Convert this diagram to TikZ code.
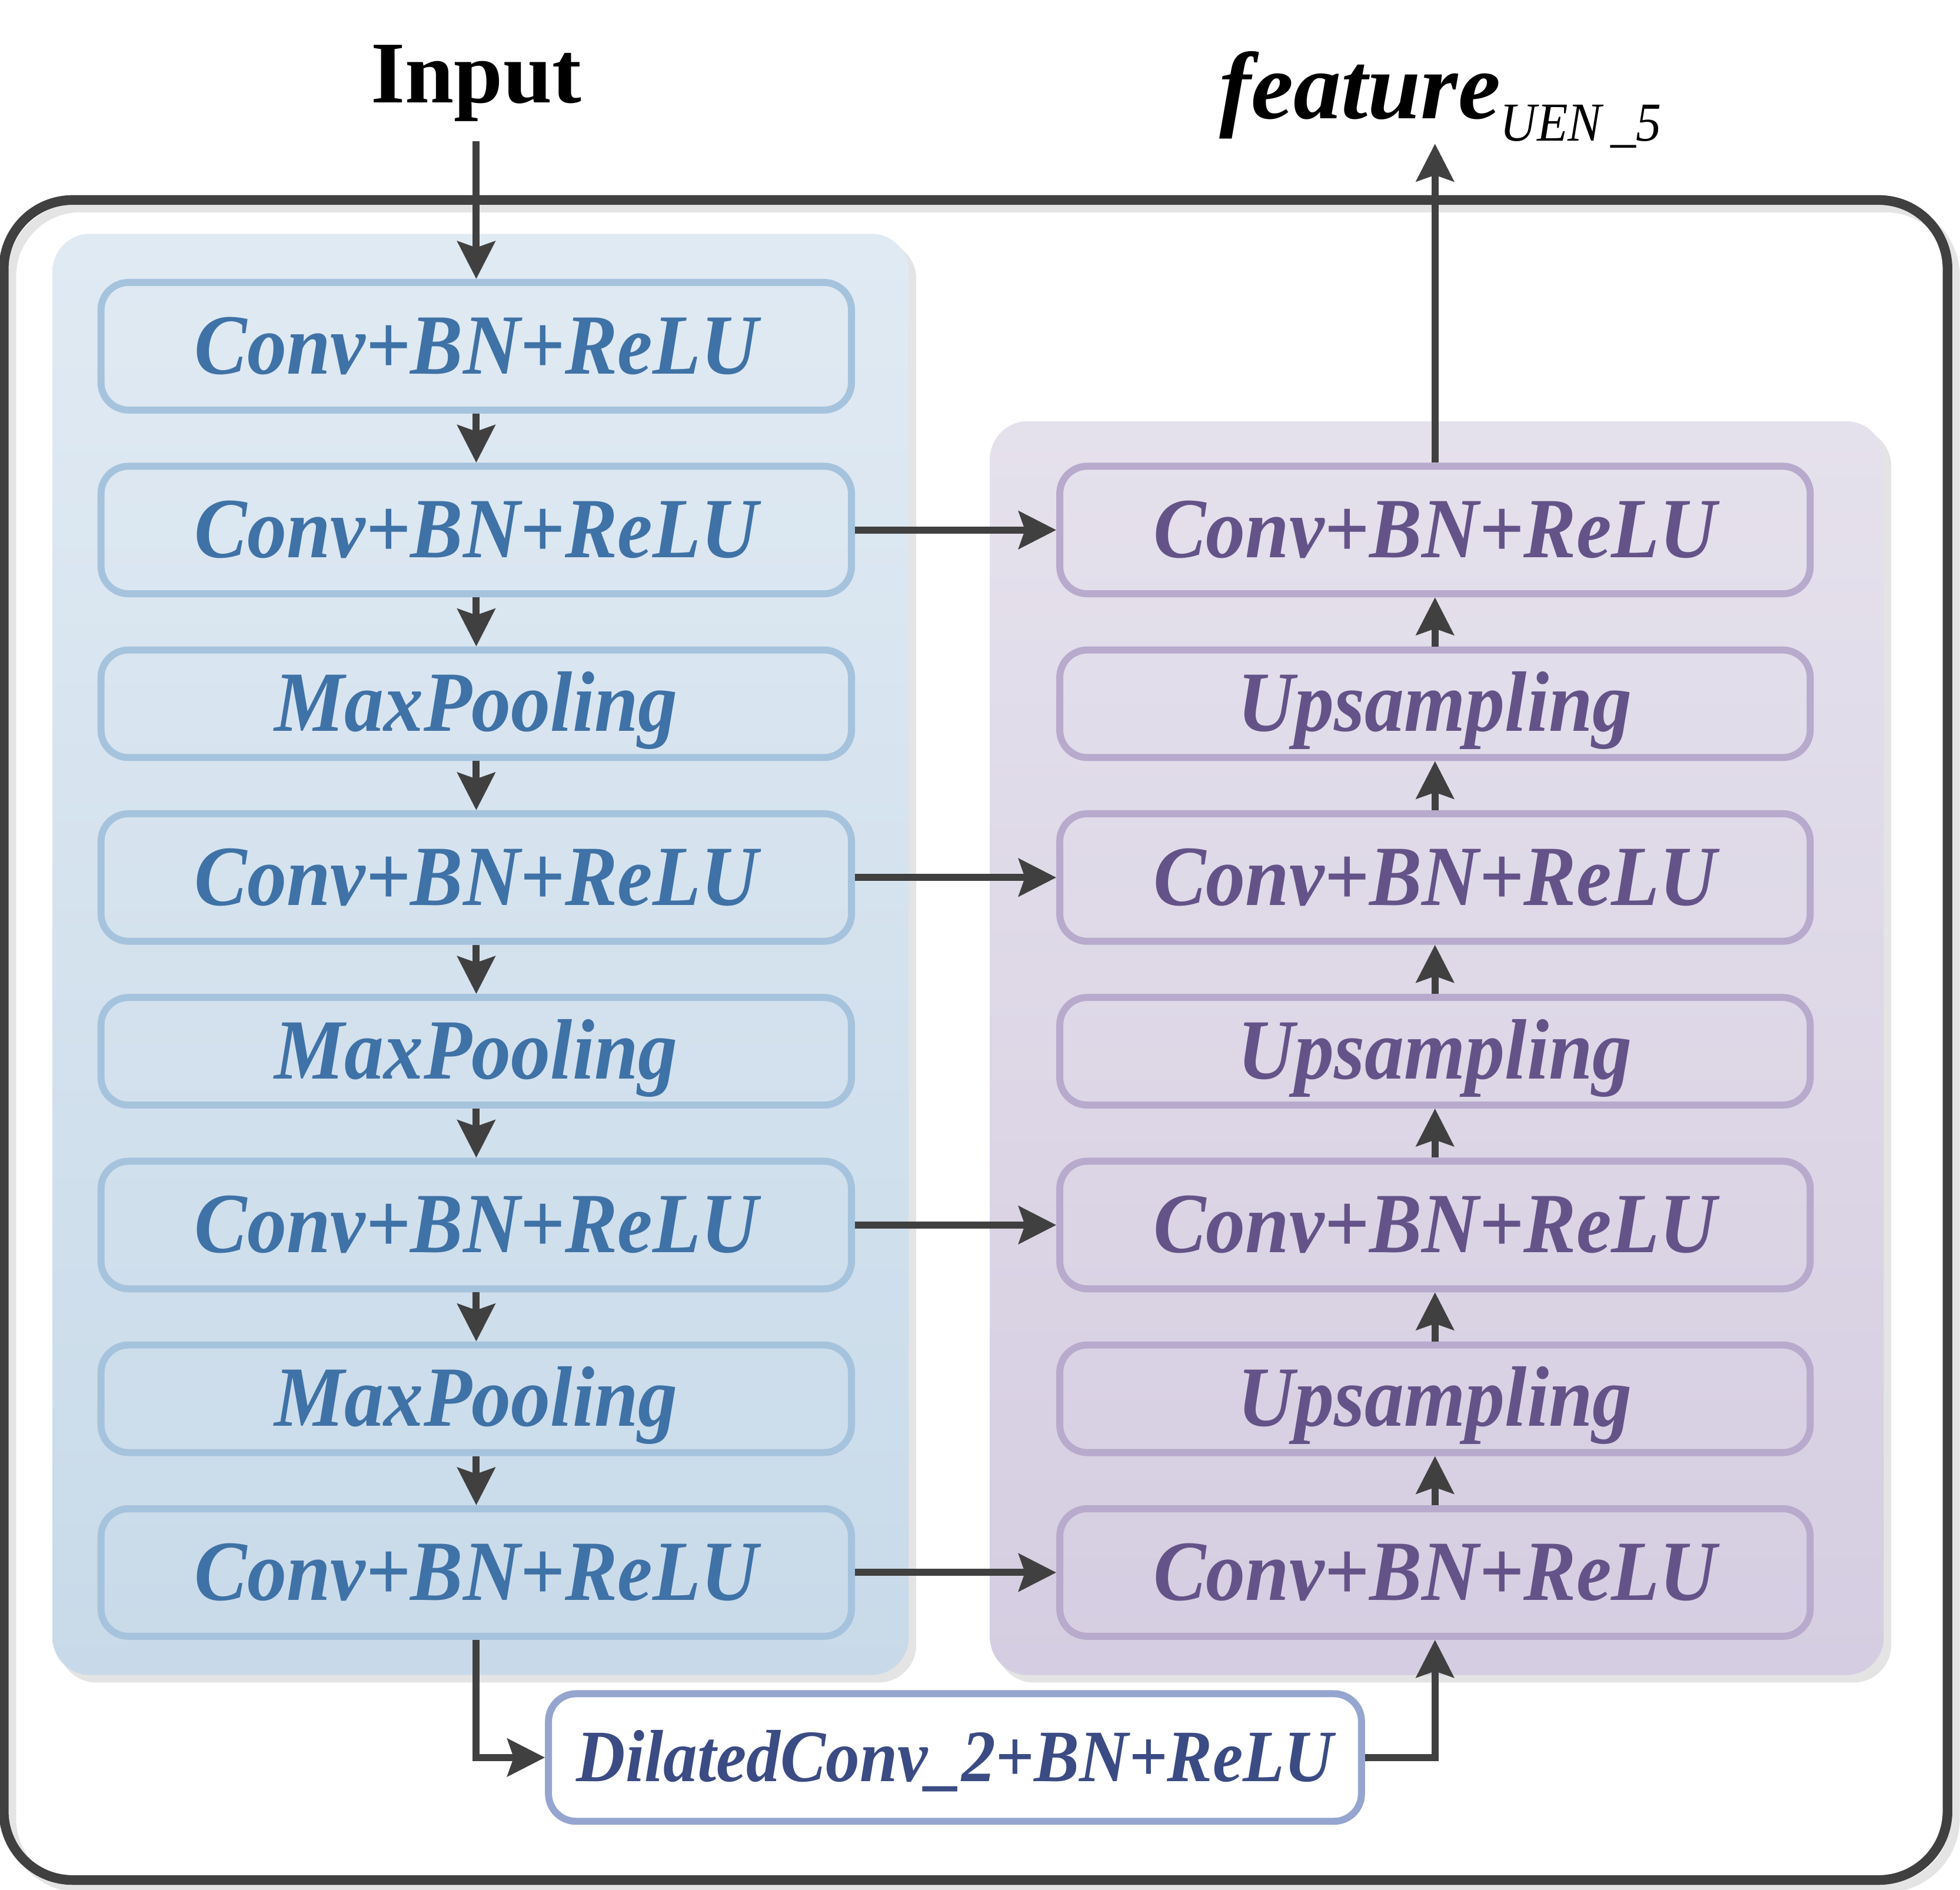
\documentclass[tikz,border=0pt]{standalone}
\usepackage{fontspec}
\setmainfont{Liberation Serif}
\newfontfamily\boxfont[FakeStretch=0.92]{Liberation Serif}
\usepackage{xcolor}
\usepackage{tikz}
\usetikzlibrary{arrows.meta}

\definecolor{frameline}{HTML}{404040}
\definecolor{shadowgray}{HTML}{E4E4E4}
\definecolor{encTop}{HTML}{E0EAF3}
\definecolor{encBot}{HTML}{C8DAE9}
\definecolor{decTop}{HTML}{E5E1EC}
\definecolor{decBot}{HTML}{D5CDE1}
\definecolor{encLine}{HTML}{A6C3DD}
\definecolor{encText}{HTML}{3F72A6}
\definecolor{decLine}{HTML}{B7AACC}
\definecolor{decText}{HTML}{645388}
\definecolor{dilLine}{HTML}{95A5CF}
\definecolor{dilText}{HTML}{3B4B83}

\begin{document}
\begin{tikzpicture}[
    x=0.01cm, y=-0.01cm,
    % Block look shared by both branches
    block/.style={line width=1.6pt, rounded corners=0.22cm, minimum width=6.0cm,
      inner sep=0pt, text height=0.44cm, text depth=0pt,
      font=\boxfont\bfseries\itshape\fontsize{19.5}{20}\selectfont},
    tall/.style={minimum height=1.02cm},
    short/.style={minimum height=0.86cm},
    enc block/.style={block, draw=encLine, text=encText},
    dec block/.style={block, draw=decLine, text=decText},
    dil block/.style={block, draw=dilLine, fill=white, text=dilText, minimum width=6.5cm,
      minimum height=1.02cm, font=\boxfont\bfseries\itshape\fontsize{16.8}{17}\selectfont,
      text height=0.38cm},
    % Dark arrows
    my edge/.style={-{Stealth[length=0.3cm, width=0.3cm, inset=0.05cm]}, line width=1.6pt,
      draw=frameline},
    title/.style={anchor=base, inner sep=0pt}
  ]
  \useasboundingbox (0,0) rectangle (1568,1512);

  % --- Outer frame ---
  \draw[shadowgray, line width=2.2pt, rounded corners=0.55cm] (9,166) rectangle (1564,1510);
  \draw[frameline, line width=2.2pt, rounded corners=0.55cm] (3,160) rectangle (1558,1504);

  % --- Branch panels ---
  \fill[shadowgray, rounded corners=0.3cm] (47,193) rectangle (733,1346);
  \shade[top color=encTop, bottom color=encBot, rounded corners=0.3cm] (42,187) rectangle (727,1340);
  \fill[shadowgray, rounded corners=0.3cm] (797,343) rectangle (1513,1346);
  \shade[top color=decTop, bottom color=decBot, rounded corners=0.3cm] (792,337) rectangle (1507,1340);

  % --- Titles ---
  \node[title, font=\bfseries\fontsize{20}{20}\selectfont] (input) at (381,82) {Input};
  \node[title, anchor=base west] (feat) at (975,95)
    {\bfseries\itshape\fontsize{21.7}{22}\selectfont feature\raisebox{-5pt}{\mdseries\itshape\boxfont\fontsize{12.5}{13}\selectfont UEN\,\_5}};
  \coordinate (inTop) at (381,113);
  \coordinate (outTop) at (1148,115);

  % --- Encoder blocks ---
  \node[enc block, tall]  (l1) at (381,277)  {Conv+BN+ReLU};
  \node[enc block, tall]  (l2) at (381,424)  {Conv+BN+ReLU};
  \node[enc block, short] (l3) at (381,563)  {MaxPooling};
  \node[enc block, tall]  (l4) at (381,702)  {Conv+BN+ReLU};
  \node[enc block, short] (l5) at (381,841)  {MaxPooling};
  \node[enc block, tall]  (l6) at (381,980)  {Conv+BN+ReLU};
  \node[enc block, short] (l7) at (381,1119) {MaxPooling};
  \node[enc block, tall]  (l8) at (381,1258) {Conv+BN+ReLU};

  % --- Decoder blocks ---
  \node[dec block, tall]  (r1) at (1148,424)  {Conv+BN+ReLU};
  \node[dec block, short] (r2) at (1148,563)  {Upsampling};
  \node[dec block, tall]  (r3) at (1148,702)  {Conv+BN+ReLU};
  \node[dec block, short] (r4) at (1148,841)  {Upsampling};
  \node[dec block, tall]  (r5) at (1148,980)  {Conv+BN+ReLU};
  \node[dec block, short] (r6) at (1148,1119) {Upsampling};
  \node[dec block, tall]  (r7) at (1148,1258) {Conv+BN+ReLU};

  % --- Bottleneck ---
  \node[dil block] (dil) at (764,1406) {DilatedConv\_2+BN+ReLU};

  % --- Connections ---
  \begin{scope}[my edge]
    \draw (inTop) -- (l1.north);
    \draw (l1) -- (l2);
    \draw (l2) -- (l3);
    \draw (l3) -- (l4);
    \draw (l4) -- (l5);
    \draw (l5) -- (l6);
    \draw (l6) -- (l7);
    \draw (l7) -- (l8);

    % skip links
    \draw (l2.east) -- (r1.west);
    \draw (l4.east) -- (r3.west);
    \draw (l6.east) -- (r5.west);
    \draw (l8.east) -- (r7.west);

    % decoder goes upward
    \draw (r7) -- (r6);
    \draw (r6) -- (r5);
    \draw (r5) -- (r4);
    \draw (r4) -- (r3);
    \draw (r3) -- (r2);
    \draw (r2) -- (r1);
    \draw (r1.north) -- (outTop);

    % through the bottleneck
    \draw (l8.south) |- (dil.west);
    \draw (dil.east) -| (r7.south);
  \end{scope}

\end{tikzpicture}
\end{document}
